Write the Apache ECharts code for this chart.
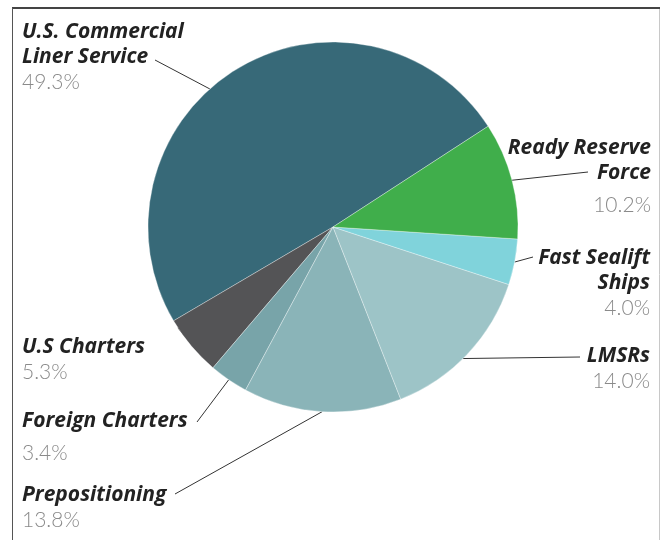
<!DOCTYPE html>
<html><head><meta charset="utf-8">
<script src="https://cdn.jsdelivr.net/npm/echarts@6/dist/echarts.min.js"></script>
<style>html,body{margin:0;padding:0;background:#fff}#c{width:660px;height:540px}</style>
</head><body><div id="c"></div>
<script>
const categories = ['U.S. Commercial\nLiner Service','U.S Charters','Foreign Charters','Prepositioning','LMSRs','Fast Sealift\nShips','Ready Reserve\nForce'];
const shares = [49.3, 5.3, 3.4, 13.8, 14.0, 4.0, 10.2];
const shareLabels = ['49.3%','5.3%','3.4%','13.8%','14.0%','4.0%','10.2%'];
const colors = ['#376978','#545456','#78a4a9','#8ab4b8','#9dc4c7','#80d3db','#40ae4b'];

// label placement (top of text block, anchor side, where the leader line ends, angle nudge of its start)
const labelPos = [
  {x:22,  y:20,  align:'left',  end:[155,60],  rot:10},
  {x:22,  y:335, align:'left',  end:[191,344], rot:-7},
  {x:22,  y:409, align:'left',  end:[197,422], rot:0},
  {x:22,  y:483, align:'left',  end:[175,494], rot:0},
  {x:650, y:344, align:'right', end:[580,357], rot:-2},
  {x:650, y:246, align:'right', end:[533,257], rot:0},
  {x:651, y:136, align:'right', end:[588,172], rot:0}
];
const valueStyle = ['v','v','vg','v','v','v','vg'];
const CX = 333, CY = 227, R = 185;

const chart = echarts.init(document.getElementById('c'));
chart.setOption({
  animation:false,
  graphic:[
    {type:'line', shape:{x1:12,y1:8,x2:660,y2:8}, style:{stroke:'#444',lineWidth:2}},
    {type:'line', shape:{x1:12.5,y1:8,x2:12.5,y2:540}, style:{stroke:'#555',lineWidth:1}},
    {type:'line', shape:{x1:659.5,y1:9,x2:659.5,y2:540}, style:{stroke:'#c8c8c8',lineWidth:1}}
  ],
  series:[{
    type:'pie',
    center:[CX,CY],
    radius:R,
    startAngle:33,
    clockwise:false,
    avoidLabelOverlap:false,
    itemStyle:{borderColor:'rgba(255,255,255,0.55)',borderWidth:0.6},
    label:{
      show:true, position:'outside',
      formatter:p => '{n|' + categories[p.dataIndex] + '}\n{' + valueStyle[p.dataIndex] + '|' + shareLabels[p.dataIndex] + '}',
      rich:{
        n:{fontFamily:'Open Sans',fontStyle:'italic',fontWeight:'bold',fontSize:21,color:'#222',lineHeight:25},
        v:{fontFamily:'Lato',fontWeight:300,fontSize:21,color:'#8a8a8a',lineHeight:25},
        vg:{fontFamily:'Lato',fontWeight:300,fontSize:21,color:'#8a8a8a',lineHeight:30,verticalAlign:'bottom'}
      }
    },
    labelLine:{show:true,lineStyle:{color:'#333',width:1}},
    labelLayout: function(params){
      const lp = labelPos[params.dataIndex];
      let p0 = params.labelLinePoints ? params.labelLinePoints[0] : lp.end;
      if (lp.rot) {
        const a = Math.atan2(p0[1]-CY, p0[0]-CX) - lp.rot*Math.PI/180;
        p0 = [CX + R*Math.cos(a), CY + R*Math.sin(a)];
      }
      return {x:lp.x, y:lp.y, align:lp.align, verticalAlign:'top',
              labelLinePoints:[p0, lp.end, lp.end]};
    },
    data: categories.map((c,i)=>({name:c, value:shares[i], itemStyle:{color:colors[i]}}))
  }]
});
</script></body></html>
